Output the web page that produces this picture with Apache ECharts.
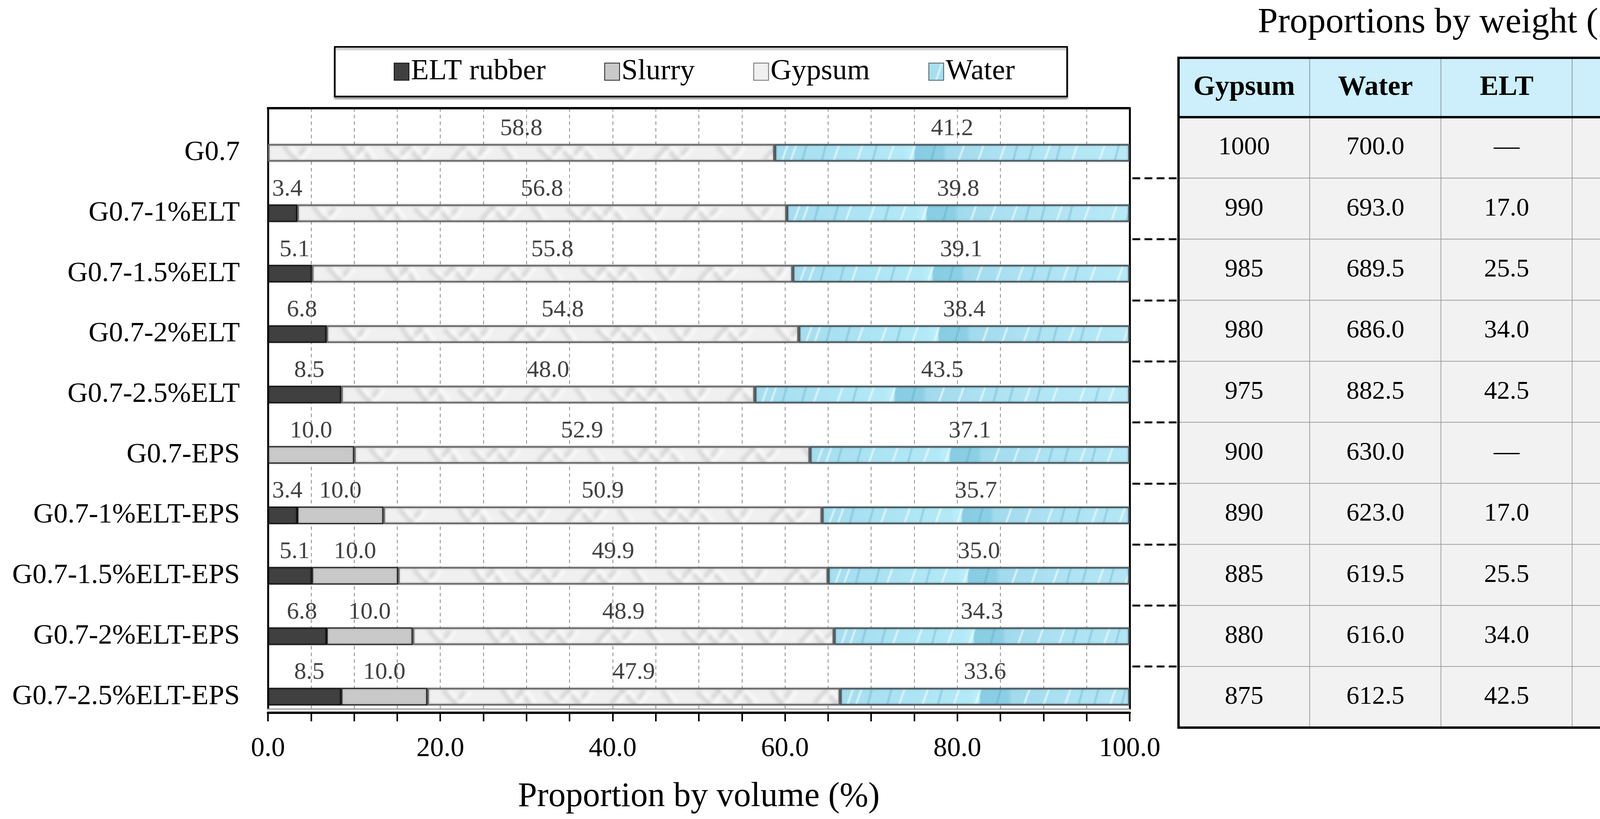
<!DOCTYPE html>
<html><head><meta charset="utf-8">
<script src="https://cdn.jsdelivr.net/npm/echarts@6/dist/echarts.min.js"></script>
<style>html,body{margin:0;padding:0;background:#fff}#c{width:4392px;height:2097px}</style>
</head><body><div id="c"></div>
<script>
// ---- data ----
const categories = ['G0.7','G0.7-1%ELT','G0.7-1.5%ELT','G0.7-2%ELT','G0.7-2.5%ELT','G0.7-EPS','G0.7-1%ELT-EPS','G0.7-1.5%ELT-EPS','G0.7-2%ELT-EPS','G0.7-2.5%ELT-EPS'];
const seriesNames = ['ELT rubber','Slurry','Gypsum','Water'];
const eltRubber = [null,3.4,5.1,6.8,8.5,null,3.4,5.1,6.8,8.5];
const slurry    = [null,null,null,null,null,10.0,10.0,10.0,10.0,10.0];
const gypsum    = [58.8,56.8,55.8,54.8,48.0,52.9,50.9,49.9,48.9,47.9];
const water     = [41.2,39.8,39.1,38.4,43.5,37.1,35.7,35.0,34.3,33.6];
const xLabelStep = 20;

const tableTitle = 'Proportions by weight (g)';
const tableColumns = ['Gypsum','Water','ELT','Slurry'];
const tableGypsum = ['1000','990','985','980','975','900','890','885','880','875'];
const tableWater  = ['700.0','693.0','689.5','686.0','882.5','630.0','623.0','619.5','616.0','612.5'];
const tableELT    = ['—','17.0','25.5','34.0','42.5','—','17.0','25.5','34.0','42.5'];
const tableSlurry = ['—','—','—','—','—','170','170','170','170','170'];
const tableCols = [tableGypsum, tableWater, tableELT, tableSlurry];

// ---- textures (decorative fills only) ----
const BAR_W = 45;
function makeCanvas(w, h, draw) {
  const c = document.createElement('canvas'); c.width = w; c.height = h;
  draw(c.getContext('2d'), w, h); return c;
}
const gypsumTex = makeCanvas(1400, BAR_W, (g, w, h) => {
  g.fillStyle = '#f0f0f0'; g.fillRect(0, 0, w, h);
  g.filter = 'blur(4px)';
  const strokes = [
    [[40,6],[70,40],[95,10]], [[190,4],[215,40],[240,8],[262,42]], [[300,10],[330,40],[360,6],[385,40],[410,8]],
    [[470,40],[500,6],[528,42],[556,8]], [[600,6],[625,40]], [[690,10],[720,40],[745,6],[775,40],[800,6],[830,40]],
    [[880,8],[905,40],[930,6]], [[990,40],[1020,6],[1045,40],[1075,10]], [[1150,6],[1180,40],[1205,8]], [[1270,40],[1300,8],[1330,40]]
  ];
  g.strokeStyle = 'rgba(140,140,140,0.28)'; g.lineWidth = 9;
  strokes.forEach(s => { g.beginPath(); s.forEach((p, i) => i ? g.lineTo(p[0], p[1]) : g.moveTo(p[0], p[1])); g.stroke(); });
  g.strokeStyle = 'rgba(255,255,255,0.9)'; g.lineWidth = 6;
  strokes.forEach(s => { g.beginPath(); s.forEach((p, i) => i ? g.lineTo(p[0] + 16, p[1]) : g.moveTo(p[0] + 16, p[1])); g.stroke(); });
});
const waterTex = makeCanvas(1000, BAR_W, (g, w, h) => {
  const grd = g.createLinearGradient(0, 0, w, 0);
  grd.addColorStop(0, '#a6def0'); grd.addColorStop(0.33, '#b4eaf7');
  grd.addColorStop(0.355, '#bff0fa'); grd.addColorStop(0.36, '#88cde3');
  grd.addColorStop(0.43, '#8dd0e5'); grd.addColorStop(0.44, '#a2dbed');
  grd.addColorStop(0.6, '#aee3f3'); grd.addColorStop(1, '#bcedf8');
  g.fillStyle = grd; g.fillRect(0, 0, w, h);
  g.filter = 'blur(1.5px)';
  g.lineWidth = 4;
  g.strokeStyle = 'rgba(240,253,255,0.85)';
  [18, 40, 150, 210, 290, 345, 470, 520, 575, 690, 760, 830, 905].forEach(x => {
    g.beginPath(); g.moveTo(x + 16, 0); g.lineTo(x, h); g.stroke();
  });
  g.strokeStyle = 'rgba(70,150,180,0.35)';
  [70, 120, 250, 400, 610, 650, 720, 870].forEach(x => {
    g.beginPath(); g.moveTo(x + 12, 0); g.lineTo(x, h); g.stroke();
  });
});

const FONT = 'Liberation Serif';
const chart = echarts.init(document.getElementById('c'), null, {renderer: 'canvas'});

function barLabel(offsetX) {
  return {
    show: true, position: 'top', distance: 8, offset: [offsetX, 0],
    fontFamily: FONT, fontSize: 62, color: '#404040',
    formatter: p => p.value == null ? '' : Number(p.value).toFixed(1)
  };
}
function barSeries(name, data, style, offsetX) {
  return {
    name, type: 'bar', stack: 'vol', data, barWidth: BAR_W,
    xAxisIndex: 1, yAxisIndex: 1,
    itemStyle: Object.assign({shadowColor: 'rgba(0,0,0,0.28)', shadowBlur: 5}, style),
    label: barLabel(offsetX || 0)
  };
}

const headerData = tableColumns.map((c, i) => [i, 0, 1]);
const bodyData = [];
categories.forEach((c, r) => tableColumns.forEach((col, ci) => bodyData.push([ci, r, 1])));

const frameLine = {show: true, onZero: false, lineStyle: {color: '#000', width: 6}};
const sideLine = {show: true, onZero: false, lineStyle: {color: '#000', width: 5}};
const option = {
  animation: false,
  backgroundColor: '#fff',
  title: {
    text: tableTitle, left: 3689, top: 8, textAlign: 'center',
    textStyle: {fontFamily: FONT, fontSize: 92, fontWeight: 'normal', color: '#000'}
  },
  legend: {
    data: seriesNames, left: 857, top: 120,
    padding: [26, 134, 26, 151], itemGap: 150,
    itemWidth: 38, itemHeight: 44, icon: 'rect',
    borderColor: '#000', borderWidth: 4, backgroundColor: '#fff',
    shadowColor: 'rgba(0,0,0,0.35)', shadowBlur: 4, shadowOffsetY: 5,
    textStyle: {fontFamily: FONT, fontSize: 75, color: '#000'}
  },
  visualMap: [
    {type: 'continuous', show: false, min: 0, max: 1, seriesIndex: 4, inRange: {color: ['#cceffb', '#cceffb']}},
    {type: 'continuous', show: false, min: 0, max: 1, seriesIndex: 5, inRange: {color: ['#f2f2f2', '#f2f2f2']}}
  ],
  grid: [
    {left: 686, right: 1500, top: 277, bottom: 282},
    {left: 686, right: 1500, top: 314, bottom: 236},
    {left: 3017, right: 31, top: 148, bottom: 1797, show: true, borderColor: '#000', borderWidth: 6, z: 5},
    {left: 3017, right: 31, top: 300, bottom: 234, show: true, borderColor: '#000', borderWidth: 6, z: 5},
    {left: 2899, right: 1375, top: 300, bottom: 234}
  ],
  xAxis: [
    {
      gridIndex: 0, type: 'value', min: 0, max: 100, interval: 5, position: 'bottom', offset: 10,
      axisLine: frameLine,
      axisTick: {show: true, length: 22, lineStyle: {color: '#000', width: 4}},
      axisLabel: {
        margin: 58, fontFamily: FONT, fontSize: 70, color: '#000',
        formatter: v => (v % xLabelStep === 0 ? v.toFixed(1) : '')
      },
      splitLine: {show: true, lineStyle: {color: '#8a8a8a', width: 2, type: [9, 8]}},
      name: 'Proportion by volume (%)', nameLocation: 'middle', nameGap: 172,
      nameTextStyle: {fontFamily: FONT, fontSize: 88, color: '#000'}
    },
    {gridIndex: 1, type: 'value', min: 0, max: 100, show: false},
    {gridIndex: 2, type: 'category', data: tableColumns, show: false},
    {gridIndex: 3, type: 'category', data: tableColumns, show: false},
    {gridIndex: 4, type: 'value', min: 0, max: 1, show: false},
    {gridIndex: 0, type: 'value', min: 0, max: 100, position: 'top', axisLine: frameLine,
      axisTick: {show: false}, axisLabel: {show: false}, splitLine: {show: false}},
    {gridIndex: 0, type: 'value', min: 0, max: 100, position: 'bottom', offset: 0,
      axisLine: {show: true, onZero: false, lineStyle: {color: '#9a9a9a', width: 3}},
      axisTick: {show: false}, axisLabel: {show: false}, splitLine: {show: false}}
  ],
  yAxis: [
    {gridIndex: 0, type: 'value', min: 0, max: 1, position: 'left', axisLine: sideLine,
      axisTick: {show: false}, axisLabel: {show: false}, splitLine: {show: false}},
    {
      gridIndex: 1, type: 'category', data: categories, inverse: true,
      axisLine: {show: false}, axisTick: {show: false}, splitLine: {show: false},
      axisLabel: {margin: 72, fontFamily: FONT, fontSize: 72, color: '#000'}
    },
    {gridIndex: 2, type: 'category', data: ['header'], show: false},
    {gridIndex: 3, type: 'category', data: categories, inverse: true, show: false},
    {
      gridIndex: 4, type: 'category', data: categories, inverse: true,
      axisLine: {show: false}, axisTick: {show: false}, axisLabel: {show: false},
      splitLine: {show: true, showMinLine: false, showMaxLine: false,
        lineStyle: {color: '#000', width: 5, type: [20, 11]}}
    },
    {gridIndex: 0, type: 'value', min: 0, max: 1, position: 'right', axisLine: sideLine,
      axisTick: {show: false}, axisLabel: {show: false}, splitLine: {show: false}}
  ],
  series: [
    barSeries('ELT rubber', eltRubber, {color: '#404040', borderColor: '#111', borderWidth: 3}, 12),
    barSeries('Slurry', slurry, {color: '#c9c9c9', borderColor: '#222', borderWidth: 3}),
    barSeries('Gypsum', gypsum, {color: {image: gypsumTex, repeat: 'repeat'}, borderColor: '#6a6a6a', borderWidth: 4}),
    barSeries('Water', water, {color: {image: waterTex, repeat: 'repeat'}, borderColor: '#4a5a60', borderWidth: 4}),
    {
      type: 'heatmap', xAxisIndex: 2, yAxisIndex: 2, data: headerData,
      itemStyle: {borderColor: '#8a9aa0', borderWidth: 2},
      label: {show: true, fontFamily: FONT, fontSize: 72, fontWeight: 'bold', color: '#000',
        formatter: p => tableColumns[p.value[0]]}
    },
    {
      type: 'heatmap', xAxisIndex: 3, yAxisIndex: 3, data: bodyData,
      itemStyle: {borderColor: '#a0a0a0', borderWidth: 2},
      label: {show: true, fontFamily: FONT, fontSize: 66, color: '#000',
        formatter: p => tableCols[p.value[0]][p.value[1]]}
    }
  ]
};
chart.setOption(option);

// anchor each textured segment's fill at the start of its own segment (positions from the chart's scales)
const gyData = [], waData = [];
categories.forEach((c, i) => {
  const top = chart.convertToPixel({yAxisIndex: 1}, c) - BAR_W / 2;
  const gStart = (eltRubber[i] || 0) + (slurry[i] || 0);
  const wStart = gStart + gypsum[i];
  const gx = chart.convertToPixel({xAxisIndex: 1}, gStart);
  const wx = chart.convertToPixel({xAxisIndex: 1}, wStart);
  gyData.push({value: gypsum[i], itemStyle: {color: {image: gypsumTex, repeat: 'repeat', x: gx, y: top}}});
  waData.push({value: water[i], itemStyle: {color: {image: waterTex, repeat: 'repeat', x: wx, y: top}}});
});
chart.setOption({series: [{}, {}, {data: gyData}, {data: waData}]});
</script>
</body></html>
